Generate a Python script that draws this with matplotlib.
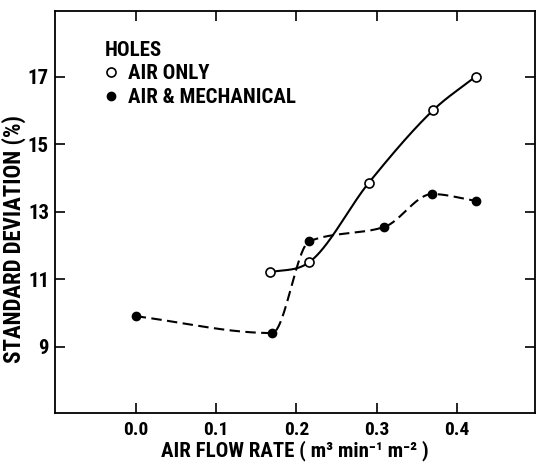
import numpy as np
import matplotlib
matplotlib.use("Agg")
import matplotlib.pyplot as plt

# ---- data ----
air_only_x = [0.167, 0.216, 0.290, 0.370, 0.423]
air_only_y = [11.2, 11.5, 13.85, 16.0, 17.0]
air_mech_x = [0.000, 0.170, 0.216, 0.309, 0.369, 0.423]
air_mech_y = [9.9, 9.4, 12.12, 12.54, 13.52, 13.32]
x_ticks = [0.0, 0.1, 0.2, 0.3, 0.4]
x_tick_labels = ["0.0", "0.1", "0.2", "0.3", "0.4"]
y_ticks = [9, 11, 13, 15, 17]
y_tick_labels = ["9", "11", "13", "15", "17"]
series_labels = ["AIR ONLY", "AIR & MECHANICAL"]
legend_title = "HOLES"
x_label = "AIR FLOW RATE ( m\u00b3 min\u207b\u00b9 m\u207b\u00b2 )"
y_label = "STANDARD DEVIATION (%)"

FAM = ["Roboto Condensed", "DejaVu Sans"]
plt.rcParams["font.family"] = FAM
plt.rcParams["font.weight"] = "bold"


def smooth(x, y, mode="harmonic", n=400):
    """Monotone cubic Hermite curve through the given points."""
    x = np.asarray(x, float)
    y = np.asarray(y, float)
    h = np.diff(x)
    d = np.diff(y) / h
    m = np.zeros_like(y)
    for k in range(1, len(x) - 1):
        if d[k - 1] * d[k] > 0:
            if mode == "harmonic":
                w1 = 2 * h[k] + h[k - 1]
                w2 = h[k] + 2 * h[k - 1]
                m[k] = (w1 + w2) / (w1 / d[k - 1] + w2 / d[k])
            else:
                m[k] = 0.5 * (d[k - 1] + d[k])
    m[0] = d[0]
    m[-1] = d[-1]
    for k in range(len(d)):
        if d[k] == 0:
            m[k] = m[k + 1] = 0
            continue
        a, b = m[k] / d[k], m[k + 1] / d[k]
        s = a * a + b * b
        if s > 9:
            t = 3 / np.sqrt(s)
            m[k] = t * a * d[k]
            m[k + 1] = t * b * d[k]
    xs = np.linspace(x[0], x[-1], n)
    idx = np.clip(np.searchsorted(x, xs) - 1, 0, len(x) - 2)
    t = (xs - x[idx]) / h[idx]
    h00 = 2 * t**3 - 3 * t**2 + 1
    h10 = t**3 - 2 * t**2 + t
    h01 = -2 * t**3 + 3 * t**2
    h11 = t**3 - t**2
    ys = h00 * y[idx] + h10 * h[idx] * m[idx] + h01 * y[idx + 1] + h11 * h[idx] * m[idx + 1]
    return xs, ys


fig = plt.figure(figsize=(5.37, 4.65), dpi=100)
ax = fig.add_axes([0.1015, 0.1125, 0.8948, 0.8628])

sx, sy = smooth(air_only_x, air_only_y, mode="mean")
ax.plot(sx, sy, color="black", lw=1.5, zorder=2, solid_capstyle="round")
dx, dy = smooth(air_mech_x, air_mech_y, mode="harmonic")
ax.plot(dx, dy, color="black", lw=1.5, dashes=(5.0, 2.6), zorder=2)

h1, = ax.plot(air_only_x, air_only_y, "o", ms=6.5, mfc="white", mec="black", mew=1.2, ls="none", zorder=3)
h2, = ax.plot(air_mech_x, air_mech_y, "o", ms=6, mfc="black", mec="black", ls="none", zorder=3)

ax.set_xlim(-0.101, 0.497)
ax.set_ylim(7.04, 18.93)
ax.set_xticks(x_ticks)
ax.set_xticklabels(x_tick_labels)
ax.set_yticks(y_ticks)
ax.set_yticklabels(y_tick_labels)
ax.tick_params(axis="both", direction="in", top=True, right=True, width=1.2, length=7)
ax.tick_params(axis="x", pad=6, labelsize=14)
ax.tick_params(axis="y", pad=4, labelsize=15)
for s in ax.spines.values():
    s.set_linewidth(1.3)

ax.set_xlabel(x_label, fontsize=15, fontweight="bold", va="top")
ax.xaxis.set_label_coords(0.5, -0.07)
ax.set_ylabel(y_label, fontsize=16.5, fontweight="bold")
ax.yaxis.set_label_coords(-0.06, 0.433)

leg = ax.legend([h1, h2], series_labels, title=legend_title, loc="upper left",
                bbox_to_anchor=(0.105, 0.927), frameon=False, fontsize=15,
                title_fontsize=15, handlelength=0.6, handletextpad=0.5,
                labelspacing=0.22, borderpad=0, borderaxespad=0, alignment="left")
leg.get_title().set_fontweight("bold")

fig.savefig("out.png", dpi=100)
